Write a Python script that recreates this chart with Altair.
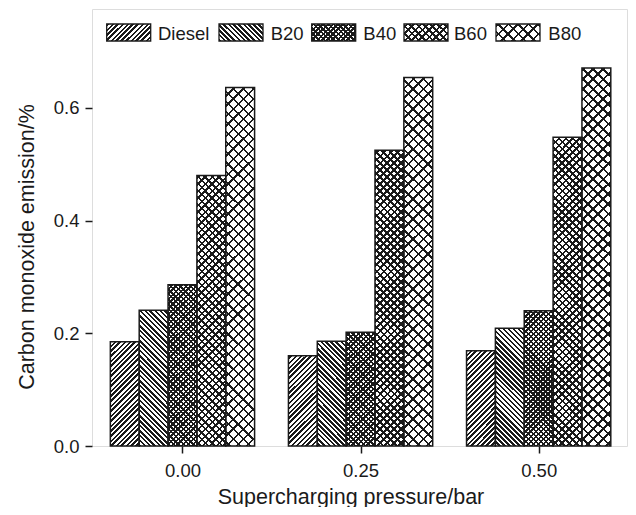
import math
import altair as alt

# ---------------- data ----------------
pressures = [0.00, 0.25, 0.50]
fuels = ["Diesel", "B20", "B40", "B60", "B80"]
diesel = [0.185, 0.160, 0.169]
b20 = [0.241, 0.186, 0.209]
b40 = [0.286, 0.202, 0.240]
b60 = [0.480, 0.525, 0.548]
b80 = [0.636, 0.654, 0.671]
series = [diesel, b20, b40, b60, b80]
x_ticks = [0.00, 0.25, 0.50]
y_ticks = [0.0, 0.2, 0.4, 0.6]

# ---------------- layout / style ----------------
W, H = 535, 437
PAD = {"left": 84, "top": 1, "right": 1, "bottom": 61}
X_DOM = [-0.127, 0.624]
Y_DOM = [0.0, 0.7755]
BAR_W = 0.0405
FONT = "Liberation Sans"
INK = "#1a1a1a"

# hatch style per series: (kind, period px, line thickness px)
hatch = {
    "Diesel": ("/", 5.0, 2.2),
    "B20": ("\\", 5.0, 2.2),
    "B40": ("x", 5.0, 2.5),
    "B60": ("x", 7.0, 2.4),
    "B80": ("x", 10.0, 2.4),
}

# legend layout (pixels inside the plot area)
leg_sw_x = [14.7, 127.0, 219.7, 312.0, 404.0]
leg_tx_x = [66.0, 178.7, 271.3, 362.0, 456.3]
LEG_SW_W = 44.0
LEG_Y0, LEG_Y1, LEG_TY = 15.0, 32.0, 31.0


def stripe_stops(S, P, L, phase, paper):
    stops = [{"offset": 0, "color": paper}]
    k = math.floor(-phase / P) - 1
    while True:
        a = k * P - phase
        b = a + L
        if a > S:
            break
        aa, bb = max(a, 0.0), min(b, S)
        if bb > aa:
            oa, ob = round(aa / S, 5), round(bb / S, 5)
            stops += [{"offset": oa, "color": paper}, {"offset": oa, "color": INK},
                      {"offset": ob, "color": INK}, {"offset": ob, "color": paper}]
        k += 1
    stops.append({"offset": 1, "color": paper})
    return stops


def grad(direction, X0, Y0, w, h, P, L, paper):
    S = w + h
    a = w * (w + h) / (w * w + h * h)
    b = h * (w + h) / (w * w + h * h)
    if direction == "/":
        ph = (X0 + Y0) % P
        return {"gradient": "linear", "x1": 0, "y1": 0, "x2": round(a, 5), "y2": round(b, 5),
                "stops": stripe_stops(S, P, L, ph, paper)}
    ph = (X0 - Y0 - h) % P
    return {"gradient": "linear", "x1": 0, "y1": 1, "x2": round(a, 5), "y2": round(1 - b, 5),
            "stops": stripe_stops(S, P, L, ph, paper)}


def fills(fuel, X0, Y0, w, h):
    kind, P, L = hatch[fuel]
    if kind == "/":
        return grad("/", X0, Y0, w, h, P, L, "white"), "transparent"
    if kind == "\\":
        return grad("\\", X0, Y0, w, h, P, L, "white"), "transparent"
    return (grad("/", X0, Y0, w, h, P, L, "white"),
            grad("\\", X0, Y0, w, h, P, L, "transparent"))


sx = W / (X_DOM[1] - X_DOM[0])
sy = H / (Y_DOM[1] - Y_DOM[0])

rows = []
for i, (fuel, vals) in enumerate(zip(fuels, series)):
    for p, v in zip(pressures, vals):
        x0 = p + (i - 2.5) * BAR_W
        X0 = (x0 - X_DOM[0]) * sx
        h = v * sy
        Y0 = H - h
        w = BAR_W * sx
        g1, g2 = fills(fuel, X0, Y0, w, h)
        rows.append({"pressure": p, "fuel": fuel, "value": v, "zero": 0,
                     "x0": x0, "x1": x0 + BAR_W, "g1": g1, "g2": g2})

leg_rows = []
for fuel, lx, tx in zip(fuels, leg_sw_x, leg_tx_x):
    g1, g2 = fills(fuel, lx, LEG_Y0, LEG_SW_W, LEG_Y1 - LEG_Y0)
    leg_rows.append({"label": fuel, "lx": lx, "lx2": lx + LEG_SW_W, "ly": LEG_Y0, "ly2": LEG_Y1,
                     "tx": tx, "ty": LEG_TY, "g1": g1, "g2": g2})

bars = alt.Chart(alt.InlineData(values=rows))
legd = alt.Chart(alt.InlineData(values=leg_rows))

x_enc = alt.X("x0:Q", scale=alt.Scale(domain=X_DOM, nice=False, zero=False),
              axis=alt.Axis(values=x_ticks, format=".2f", title="Supercharging pressure/bar",
                            grid=False, domain=False, tickSize=7, tickWidth=1.5, tickColor=INK,
                            labelFontSize=18.5, labelFont=FONT, labelColor=INK, labelPadding=8,
                            titleFontSize=21.5, titleFont=FONT, titleColor=INK, titleFontWeight="normal",
                            titleX=258.5, titleY=57, titleBaseline="alphabetic", titleAlign="center"))
y_enc = alt.Y("value:Q", scale=alt.Scale(domain=Y_DOM, nice=False, zero=False),
              axis=alt.Axis(values=y_ticks, format=".1f", title="Carbon monoxide emission/%",
                            grid=False, domain=False, tickSize=7, tickWidth=1.5, tickColor=INK,
                            labelFontSize=18.5, labelFont=FONT, labelColor=INK, labelPadding=6,
                            titleFontSize=21.5, titleFont=FONT, titleColor=INK, titleFontWeight="normal",
                            titleX=-59, titleY=237.5, titleAngle=270, titleBaseline="alphabetic",
                            titleAlign="center"))

layer_a = bars.mark_rect().encode(x=x_enc, x2="x1:Q", y=y_enc, y2="zero:Q",
                                  fill=alt.Fill("g1:N", scale=None))
layer_b = bars.mark_rect(stroke=INK, strokeWidth=1.5).encode(
    x="x0:Q", x2="x1:Q", y="value:Q", y2="zero:Q", fill=alt.Fill("g2:N", scale=None))

leg_a = legd.mark_rect().encode(x=alt.X("lx:Q", scale=None), x2="lx2:Q",
                                y=alt.Y("ly:Q", scale=None), y2="ly2:Q",
                                fill=alt.Fill("g1:N", scale=None))
leg_b = legd.mark_rect(stroke=INK, strokeWidth=1.3).encode(
    x=alt.X("lx:Q", scale=None), x2="lx2:Q", y=alt.Y("ly:Q", scale=None), y2="ly2:Q",
    fill=alt.Fill("g2:N", scale=None))
leg_t = legd.mark_text(align="left", baseline="alphabetic", fontSize=18.5, font=FONT, color=INK).encode(
    x=alt.X("tx:Q", scale=None), y=alt.Y("ty:Q", scale=None), text="label:N")

chart = alt.layer(layer_a, layer_b, leg_a, leg_b, leg_t).properties(
    width=W, height=H,
    padding=PAD,
    autosize=alt.AutoSizeParams(type="none"),
).configure_view(stroke=INK, strokeWidth=1.6).configure(background="white")

chart.save("out.html", embed_options={"renderer": "svg", "actions": False})
